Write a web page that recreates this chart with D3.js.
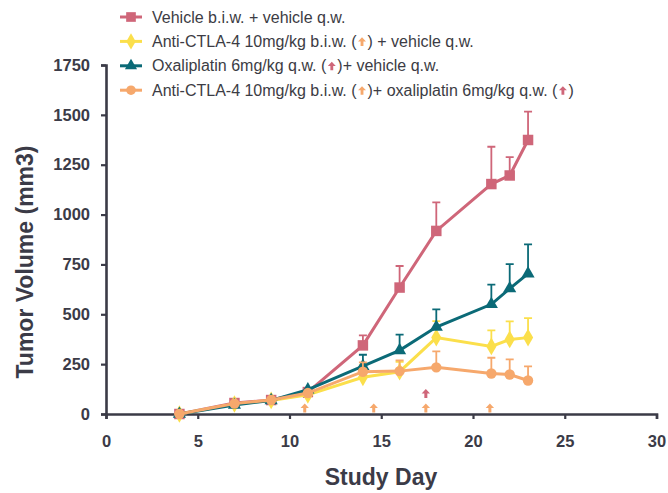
<!DOCTYPE html>
<html>
<head>
<meta charset="utf-8">
<script src="https://cdn.jsdelivr.net/npm/d3@7"></script>
<style>
  body { margin: 0; background: #fff; }
  svg { display: block; font-family: "Liberation Sans", Arial, Helvetica, sans-serif; }
</style>
</head>
<body>
<svg id="chart" width="668" height="493"></svg>
<script>
// study days where tumours were measured
var days = [4, 7, 9, 11, 14, 16, 18, 21, 22, 23];

// mean tumour volume (mm3) per group
var vehicle   = [0, 55, 70, 110, 344, 634, 918, 1153, 1196, 1374];
var ctla4     = [0, 50, 68, 96, 184, 212, 383, 339, 374, 383];
var oxali     = [0, 45, 68, 122, 240, 319, 436, 550, 629, 704];
var combo     = [0, 52, 70, 105, 212, 215, 234, 203, 198, 168];

// upper error (SD) per group, 0 = no bar drawn
var vehicleErr = [0, 0, 0, 0, 50, 108, 143, 187, 92, 142];
var ctla4Err   = [0, 0, 0, 0, 60, 50, 83, 80, 90, 98];
var oxaliErr   = [0, 0, 0, 0, 57, 79, 89, 99, 123, 147];
var comboErr   = [0, 0, 0, 0, 47, 54, 80, 79, 76, 71];

// dosing days
var ctla4Doses = [10.83, 14.59, 17.43, 20.92];
var oxaliDoses = [10.83, 17.43];

var xTicks = [0, 5, 10, 15, 20, 25, 30];
var yTicks = [0, 250, 500, 750, 1000, 1250, 1500, 1750];

var RED = "#cf6679", YELLOW = "#fbdf4b", TEAL = "#0b6a77", ORANGE = "#f6a86c";
var INK = "#3b3b47";

var series = [
  { name: "vehicle", values: vehicle, err: vehicleErr, color: RED, shape: d3.symbolSquare, size: 110 },
  { name: "ctla4", values: ctla4, err: ctla4Err, color: YELLOW, shape: d3.symbolDiamond, size: 90 },
  { name: "oxali", values: oxali, err: oxaliErr, color: TEAL, shape: d3.symbolTriangle, size: 75 },
  { name: "combo", values: combo, err: comboErr, color: ORANGE, shape: d3.symbolCircle, size: 85 }
];

var legendRows = [
  { s: 0, parts: ["Vehicle b.i.w. + vehicle q.w."] },
  { s: 1, parts: ["Anti-CTLA-4 10mg/kg b.i.w. (", ORANGE, ") + vehicle q.w."] },
  { s: 2, parts: ["Oxaliplatin 6mg/kg q.w. (", RED, ")+ vehicle q.w."] },
  { s: 3, parts: ["Anti-CTLA-4 10mg/kg b.i.w. (", ORANGE, ")+ oxaliplatin 6mg/kg q.w. (", RED, ")"] }
];

var svg = d3.select("#chart");

var x = d3.scaleLinear().domain([0, 30]).range([106, 656.5]);
var y = d3.scaleLinear().domain([0, 1750]).range([414, 65]);

// up arrow, tip at top, base at (0,0)
var arrowPath = "M0,-9L4.2,-4.6L1.5,-4.6L1.5,0L-1.5,0L-1.5,-4.6L-4.2,-4.6Z";

/*
  AXES
*/
var yAxis = svg.append("g")
  .attr("transform", "translate(" + x(0) + ",0)")
  .call(d3.axisLeft(y).tickValues(yTicks).tickSize(5).tickPadding(11).tickFormat(d3.format("d")));

var xAxis = svg.append("g")
  .attr("transform", "translate(0," + y(0) + ")")
  .call(d3.axisBottom(x).tickValues(xTicks).tickSize(5).tickPadding(16).tickFormat(d3.format("d")));

[xAxis, yAxis].forEach(function (g) {
  g.select(".domain").attr("stroke", INK).attr("stroke-width", 2.6);
  g.selectAll(".tick line").attr("stroke", INK).attr("stroke-width", 2.2);
  g.selectAll(".tick text")
    .attr("fill", INK)
    .style("font-size", "16.5px")
    .style("font-weight", "bold");
});

svg.append("text")
  .attr("x", 381).attr("y", 485)
  .attr("text-anchor", "middle")
  .attr("fill", INK)
  .style("font-size", "23px").style("font-weight", "bold")
  .text("Study Day");

svg.append("text")
  .attr("transform", "translate(33,262) rotate(-90)")
  .attr("text-anchor", "middle")
  .attr("fill", INK)
  .style("font-size", "23px").style("font-weight", "bold")
  .text("Tumor Volume (mm3)");

/*
  DOSING ARROWS
*/
svg.selectAll(".dose-ctla4").data(ctla4Doses).enter()
  .append("path")
    .attr("class", "dose-ctla4")
    .attr("d", arrowPath)
    .attr("fill", ORANGE)
    .attr("transform", function (d) { return "translate(" + x(d) + "," + (y(0) - 1.5) + ")"; });

svg.selectAll(".dose-oxali").data(oxaliDoses).enter()
  .append("path")
    .attr("class", "dose-oxali")
    .attr("d", arrowPath)
    .attr("fill", RED)
    .attr("transform", function (d) { return "translate(" + x(d) + "," + (y(0) - 16) + ")"; });

/*
  SERIES
*/
var line = d3.line()
  .x(function (d) { return x(d.day); })
  .y(function (d) { return y(d.v); });

series.forEach(function (s) {
  var pts = days.map(function (d, i) { return { day: d, v: s.values[i], e: s.err[i] }; });
  var g = svg.append("g").attr("class", "series-" + s.name);

  g.selectAll(".err").data(pts.filter(function (p) { return p.e > 0; })).enter()
    .append("path")
      .attr("class", "err")
      .attr("fill", "none")
      .attr("stroke", s.color)
      .attr("stroke-width", 1.8)
      .attr("d", function (p) {
        var cx = x(p.day), y0 = y(p.v), y1 = y(p.v + p.e);
        return "M" + cx + "," + y0 + "V" + y1 + "M" + (cx - 4) + "," + y1 + "H" + (cx + 4);
      });

  g.append("path")
    .datum(pts)
    .attr("fill", "none")
    .attr("stroke", s.color)
    .attr("stroke-width", 3)
    .attr("d", line);

  g.selectAll(".mark").data(pts).enter()
    .append("path")
      .attr("class", "mark")
      .attr("fill", s.color)
      .attr("d", d3.symbol().type(s.shape).size(s.size))
      .attr("transform", function (p) { return "translate(" + x(p.day) + "," + y(p.v) + ")"; });
});

/*
  LEGEND
*/
var legend = svg.append("g").attr("class", "legend");

legendRows.forEach(function (row, i) {
  var s = series[row.s];
  var cy = 17 + i * 24.4;
  var g = legend.append("g").attr("transform", "translate(0," + cy + ")");

  g.append("line")
    .attr("x1", 120).attr("x2", 142)
    .attr("stroke", s.color).attr("stroke-width", 3);
  g.append("path")
    .attr("d", d3.symbol().type(s.shape).size(s.size * 0.85))
    .attr("transform", "translate(131,0)")
    .attr("fill", s.color);

  var cx = 152;
  row.parts.forEach(function (p) {
    if (p.charAt(0) === "#") {
      g.append("path")
        .attr("d", arrowPath)
        .attr("fill", p)
        .attr("transform", "translate(" + (cx + 5.5) + ",4.5) scale(0.95)");
      cx += 11;
    } else {
      var t = g.append("text")
        .attr("x", cx).attr("y", 5.5)
        .attr("fill", "#3c3c44")
        .style("font-size", "16px")
        .text(p);
      cx += t.node().getComputedTextLength();
    }
  });
});
</script>
</body>
</html>
